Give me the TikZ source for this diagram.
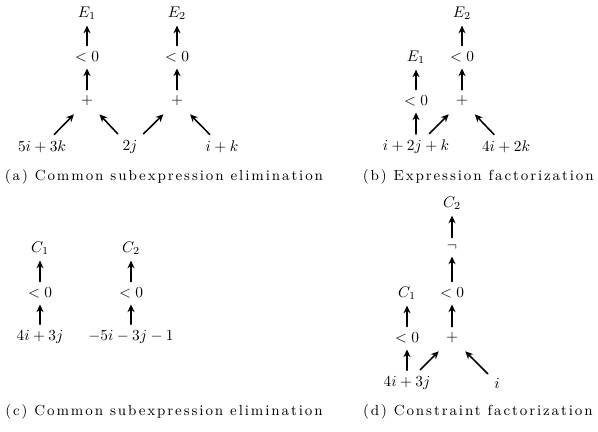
\documentclass[tikz,border=0pt]{standalone}
\usepackage{fontspec}
\usetikzlibrary{arrows.meta}
\newfontfamily\captfont[LetterSpace=13]{Latin Modern Roman}
\begin{document}
\begin{tikzpicture}[x=0.65pt, y=-0.65pt, line cap=round, line join=round, >={Stealth[length=5pt,width=4.6pt]}]
	\tikzset{
		up/.style={->, line width=1pt, shorten >=0.5pt, shorten <=0.5pt},
		diag/.style={->, line width=1pt, shorten >=2.5pt, shorten <=1pt},
		capt/.style={font=\captfont\fontsize{9.5}{11}\selectfont, inner sep=0pt}
	}
	% Bounding box (reference size in pixels)
	\useasboundingbox (0,0) rectangle (598,431);
	
	% (a) two constraints sharing the term 2j
	\node (Ea1) at (87,13) {$E_1$};
	\node (Ea2) at (177,13) {$E_2$};
	\node (la1) at (87,57) {$<0$};
	\node (la2) at (177,57) {$<0$};
	\node (pa1) at (87,101) {$+$};
	\node (pa2) at (177,101) {$+$};
	\node (ta1) at (42,147) {$5i+3k$};
	\node (ta2) at (130,147) {$2j$};
	\node (ta3) at (222,147) {$i+k$};
	\draw[up] (la1) -- (Ea1);
	\draw[up] (la2) -- (Ea2);
	\draw[up] (pa1) -- (la1);
	\draw[up] (pa2) -- (la2);
	\draw[diag] (ta1) -- (pa1);
	\draw[diag] (ta2) -- (pa1);
	\draw[diag] (ta2) -- (pa2);
	\draw[diag] (ta3) -- (pa2);
	\node[capt] (capa) at (164,177) {(a) Common subexpression elimination};
	
	% (b) factorized expression
	\node (Eb2) at (462,13) {$E_2$};
	\node (lb2) at (462,57) {$<0$};
	\node (Eb1) at (416,57) {$E_1$};
	\node (lb1) at (416,101) {$<0$};
	\node (pb) at (462,101) {$+$};
	\node (tb1) at (416,147) {$i+2j+k$};
	\node (tb2) at (506,147) {$4i+2k$};
	\draw[up] (lb2) -- (Eb2);
	\draw[up] (pb) -- (lb2);
	\draw[up] (lb1) -- (Eb1);
	\draw[up] (tb1) -- (lb1);
	\draw[diag] (tb1) -- (pb);
	\draw[diag] (tb2) -- (pb);
	\node[capt, anchor=east] (capb) at (594,177) {(b) Expression factorization};
	
	% (c) two separate constraints
	\node (Cc1) at (40,248) {$C_1$};
	\node (Cc2) at (131,248) {$C_2$};
	\node (lc1) at (40,293) {$<0$};
	\node (lc2) at (131,293) {$<0$};
	\node (tc1) at (40,337) {$4i+3j$};
	\node (tc2) at (131,337) {$-5i-3j-1$};
	\draw[up] (lc1) -- (Cc1);
	\draw[up] (lc2) -- (Cc2);
	\draw[up] (tc1) -- (lc1);
	\draw[up] (tc2) -- (lc2);
	\node[capt] (capc) at (164,412) {(c) Common subexpression elimination};
	
	% (d) factorized constraint
	\node (Cd2) at (452,203) {$C_2$};
	\node (nd) at (452,247) {$\neg$};
	\node (ld2) at (452,293) {$<0$};
	\node (Cd1) at (407,293) {$C_1$};
	\node (ld1) at (407,338) {$<0$};
	\node (pd) at (452,338) {$+$};
	\node (td1) at (407,383) {$4i+3j$};
	\node (td2) at (497,383) {$i$};
	\draw[up] (nd) -- (Cd2);
	\draw[up] (ld2) -- (nd);
	\draw[up] (pd) -- (ld2);
	\draw[up] (ld1) -- (Cd1);
	\draw[up] (td1) -- (ld1);
	\draw[diag] (td1) -- (pd);
	\draw[diag] (td2) -- (pd);
	\node[capt, anchor=east] (capd) at (593,412) {(d) Constraint factorization};
\end{tikzpicture}
\end{document}
